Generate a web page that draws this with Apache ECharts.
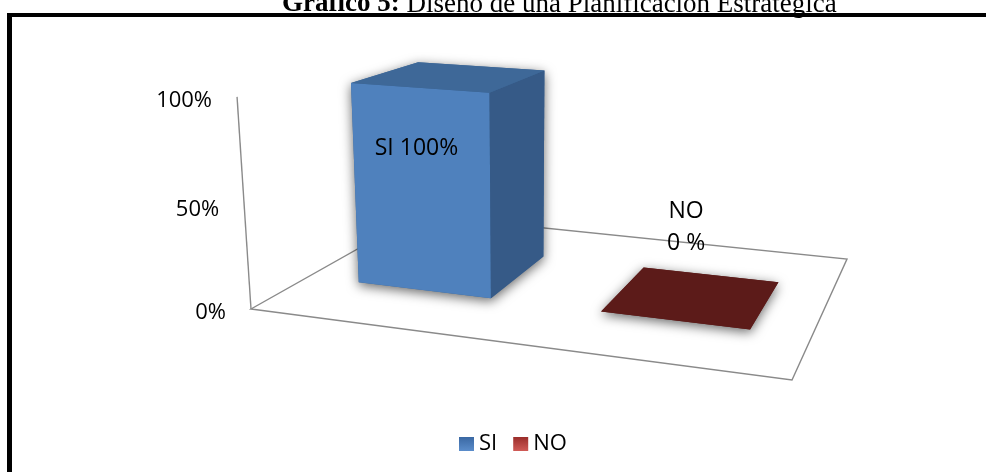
<!DOCTYPE html>
<html>
<head>
<meta charset="utf-8">
<script src="https://cdn.jsdelivr.net/npm/echarts@6/dist/echarts.min.js"></script>
<style>
  html, body { margin: 0; padding: 0; background: #fff; }
  #chart { width: 986px; height: 472px; }
</style>
</head>
<body>
<div id="chart"></div>
<script>
// ---- data ----
const categories = ['SI', 'NO'];
const values = [100, 0];
const tickValues = [0, 50, 100];
const tickLabels = ['0%', '50%', '100%'];
const titleBold = 'Gráfico 5:';
const titleRest = 'Diseño de una Planificación Estratégica';

// ---- look ----
const legendColors = [
  ['#3A68A3', '#5B8DCB'],
  ['#9A2D2A', '#D05B57']
];
const faceColors = [
  { front: '#4F81BD', side: '#365A87', top: '#3E6898' },
  { front: '#4A1512', side: '#3E1210', top: '#5C1B19' }
];

// ---- 3D box layout (screen pixels) ----
// floor corners: front-left, front-right, back-right, back-left
const FLOOR = [[251, 309], [792, 380], [847, 259], [418, 215]];
const VERTICAL_VP = [520, 4400];     // where vertical edges converge
const FULL_HEIGHT_RATIO = 0.501;     // axis maximum relative to eye height
const BAR_WIDTH = 0.56;              // share of a category slot
const BAR_DEPTH = [0.295, 0.705];    // front / back of the bars on the floor
const PLOT = 100;                    // size of the helper grid in px

// unit square -> floor quad (projective)
const H = (function () {
  const [[x0, y0], [x1, y1], [x2, y2], [x3, y3]] = FLOOR;
  const dx1 = x1 - x2, dx2 = x3 - x2, dx3 = x0 - x1 + x2 - x3;
  const dy1 = y1 - y2, dy2 = y3 - y2, dy3 = y0 - y1 + y2 - y3;
  const den = dx1 * dy2 - dx2 * dy1;
  const g = (dx3 * dy2 - dx2 * dy3) / den;
  const h = (dx1 * dy3 - dx3 * dy1) / den;
  const a = x1 - x0 + g * x1, b = x3 - x0 + h * x3, c = x0;
  const d = y1 - y0 + g * y1, e = y3 - y0 + h * y3, f = y0;
  const map = function (u, w) {
    const q = g * u + h * w + 1;
    return [(a * u + b * w + c) / q, (d * u + e * w + f) / q];
  };
  map.vpU = [a / g, d / g];
  map.vpW = [b / h, e / h];
  return map;
})();

// raise a floor point by a fraction t of the axis maximum
function lift(P, t) {
  const dx = VERTICAL_VP[0] - P[0], dy = VERTICAL_VP[1] - P[1];
  const v = Math.hypot(dx, dy);
  const ex = -dx / v, ey = -dy / v;
  const hx = H.vpW[0] - H.vpU[0], hy = H.vpW[1] - H.vpU[1];
  const cross = (ax, ay, bx, by) => ax * by - ay * bx;
  const sA = cross(H.vpU[0] - P[0], H.vpU[1] - P[1], hx, hy) / cross(ex, ey, hx, hy);
  const k = sA * v / (v + sA);
  const x = FULL_HEIGHT_RATIO * t;
  const s = k * x / (1 - k * x / v);
  return [P[0] + s * ex, P[1] + s * ey];
}

const FONT = '"Open Sans", "Liberation Sans", sans-serif';
const TICK_SIZE = 22;
const LABEL_SIZE = 23;

// floor outline and value axis line
function renderFrame(params, api) {
  const y0 = api.coord([0, 0])[1];
  const yMax = api.coord([0, 100])[1];
  const tMax = (y0 - yMax) / PLOT;
  const corners = [H(0, 0), H(1, 0), H(1, 1), H(0, 1)];
  const base = H(0, 0);
  const top = lift(base, tMax);
  return {
    type: 'group',
    children: [
      { type: 'polygon', shape: { points: corners },
        style: { fill: 'none', stroke: '#8A8A8A', lineWidth: 1.4 } },
      { type: 'line', shape: { x1: base[0], y1: base[1], x2: top[0], y2: top[1] },
        style: { stroke: '#8A8A8A', lineWidth: 1.4 } }
    ]
  };
}

// value axis tick labels
function renderTick(params, api) {
  const c0 = api.coord([0, 0]);
  const c = api.coord([0, api.value(1)]);
  const p = lift(H(0, 0), (c0[1] - c[1]) / PLOT);
  return {
    type: 'text',
    x: p[0] - 25, y: p[1] + 4,
    style: {
      text: tickLabels[params.dataIndex],
      fill: '#000', fontFamily: FONT, fontSize: TICK_SIZE,
      align: 'right', verticalAlign: 'middle'
    }
  };
}

// one 3D column
function makeRenderBar(ci) {
  return function (params, api) {
    const idx = api.value(0);
    const val = api.value(1);
    const c0 = api.coord([idx, 0]);
    const c1 = api.coord([idx, val]);
    const slot = api.size([1, 0])[0] / PLOT;
    const uc = c0[0] / PLOT;
    const t = (c0[1] - c1[1]) / PLOT;
    const u0 = uc - slot * BAR_WIDTH / 2, u1 = uc + slot * BAR_WIDTH / 2;
    const [w0, w1] = BAR_DEPTH;
    const bFL = H(u0, w0), bFR = H(u1, w0), bBR = H(u1, w1), bBL = H(u0, w1);
    const tFL = lift(bFL, t), tFR = lift(bFR, t), tBR = lift(bBR, t), tBL = lift(bBL, t);
    const col = faceColors[ci];
    const children = [
      { type: 'polygon', shape: { points: [bFL, bFR, bBR, tBR, tBL, tFL] },
        style: { fill: col.top, shadowBlur: 12, shadowOffsetY: 3, shadowColor: 'rgba(0,0,0,0.6)' } },
      { type: 'polygon', shape: { points: [bFL, bFR, tFR, tFL] }, style: { fill: col.front } },
      { type: 'polygon', shape: { points: [bFR, bBR, tBR, tFR] }, style: { fill: col.side } },
      { type: 'polygon', shape: { points: [tFL, tFR, tBR, tBL] }, style: { fill: col.top } }
    ];
    let label;
    if (val > 0) {
      const p = lift(H(uc, w0), t * 0.71);
      label = { x: p[0] - 4, y: p[1], text: categories[ci] + ' ' + val + '%' };
    } else {
      const p = lift(H(uc, (w0 + w1) / 2), t);
      label = { x: p[0] - 7, y: p[1] - 69, text: categories[ci] + '\n' + val + ' %' };
    }
    children.push({
      type: 'text', x: label.x, y: label.y,
      style: {
        text: label.text, fill: '#000', fontFamily: FONT, fontSize: LABEL_SIZE,
        lineHeight: 32, align: 'center', verticalAlign: 'middle'
      }
    });
    return { type: 'group', children: children };
  };
}

const chart = echarts.init(document.getElementById('chart'), null, { renderer: 'canvas' });

const series = [
  {
    type: 'custom', name: 'floor', coordinateSystem: 'cartesian2d', z: 1,
    silent: true, data: [[categories[0], 0]], renderItem: renderFrame
  },
  {
    type: 'custom', name: 'ticks', coordinateSystem: 'cartesian2d', z: 3,
    silent: true, data: tickValues.map(v => [categories[0], v]), renderItem: renderTick
  }
];
categories.forEach(function (cat, i) {
  series.push({
    type: 'custom', name: cat, coordinateSystem: 'cartesian2d', z: 2,
    itemStyle: {
      color: {
        type: 'linear', x: 0, y: 0, x2: 0, y2: 1,
        colorStops: [{ offset: 0, color: legendColors[i][0] }, { offset: 1, color: legendColors[i][1] }]
      }
    },
    data: [[cat, values[i]]],
    renderItem: makeRenderBar(i)
  });
});

chart.setOption({
  animation: false,
  backgroundColor: '#fff',
  title: {
    text: '{b|' + titleBold + '} ' + titleRest,
    left: 277, top: -14,
    textStyle: {
      fontFamily: '"Liberation Serif", "Times New Roman", serif',
      fontSize: 27, fontWeight: 'normal', color: '#000',
      rich: {
        b: { fontFamily: '"Liberation Serif", "Times New Roman", serif', fontSize: 27, fontWeight: 'bold', color: '#000' }
      }
    }
  },
  legend: {
    data: categories,
    left: 454, top: 428,
    icon: 'rect', itemWidth: 15, itemHeight: 14, itemGap: 16,
    textStyle: { fontFamily: FONT, fontSize: TICK_SIZE, color: '#000' },
    selectedMode: false
  },
  grid: { left: 0, top: 0, width: PLOT, height: PLOT, show: false },
  xAxis: { type: 'category', data: categories, show: false },
  yAxis: { type: 'value', min: 0, max: 100, show: false },
  series: series,
  graphic: [
    { type: 'line', z: 100, shape: { x1: 9.5, y1: 13, x2: 9.5, y2: 472 }, style: { stroke: '#000', lineWidth: 5 } },
    { type: 'line', z: 100, shape: { x1: 7, y1: 15, x2: 986, y2: 15 }, style: { stroke: '#000', lineWidth: 4 } }
  ]
});
</script>
</body>
</html>
